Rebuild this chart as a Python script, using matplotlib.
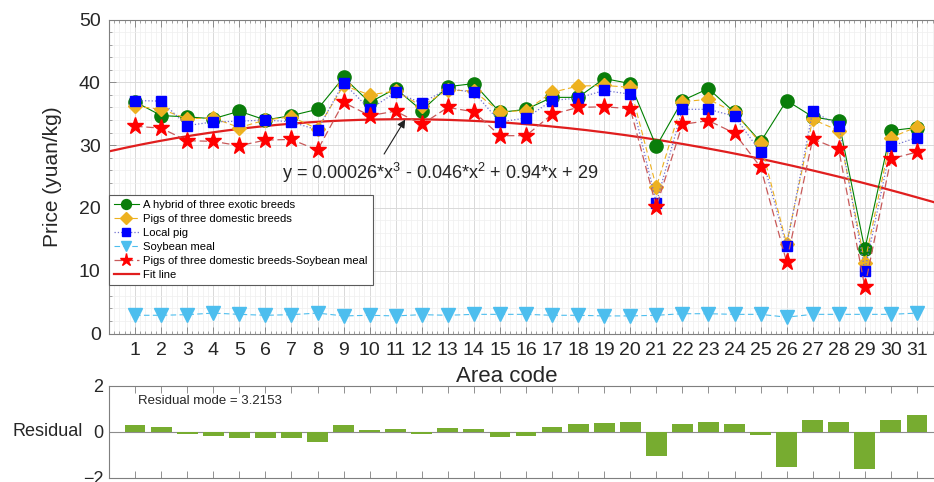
import matplotlib
matplotlib.use("Agg")
import matplotlib.pyplot as plt
import numpy as np
from matplotlib.ticker import MultipleLocator

plt.rcParams['font.family'] = ['Liberation Sans', 'DejaVu Sans']
plt.rcParams['mathtext.fontset'] = 'custom'
plt.rcParams['mathtext.rm'] = 'Liberation Sans'
plt.rcParams['mathtext.it'] = 'Liberation Sans:italic'

# ---------------- data ----------------
area = list(range(1, 32))
hybrid = [36.9, 34.7, 34.5, 34.2, 35.4, 34.0, 34.7, 35.7, 40.8, 36.8,
          39.0, 35.5, 39.3, 39.8, 35.2, 35.7, 37.6, 37.6, 40.6, 39.8,
          29.8, 37.1, 39.0, 35.2, 30.5, 37.1, 34.5, 33.8, 13.4, 32.3, 32.8]
domestic = [36.2, 35.7, 34.2, 34.3, 32.8, 34.0, 34.5, 32.6, 39.5, 38.0,
            38.6, 36.2, 38.8, 38.6, 35.3, 35.5, 38.4, 39.4, 39.5, 39.2,
            23.3, 36.9, 37.3, 35.2, 30.3, 14.3, 34.1, 32.3, 11.3, 31.2, 32.9]
local = [37.1, 37.0, 33.1, 33.7, 33.8, 34.0, 33.7, 32.4, 39.9, 35.7,
         38.4, 36.7, 39.0, 38.4, 33.7, 34.3, 37.1, 37.5, 38.7, 38.1,
         20.8, 35.7, 35.7, 34.6, 28.9, 13.9, 35.4, 33.1, 10.0, 29.8, 31.2]
soybean = [2.9, 2.9, 3.0, 3.25, 3.05, 2.9, 3.0, 3.25, 2.8, 2.9,
           2.8, 3.0, 2.9, 3.05, 3.05, 3.05, 2.9, 2.9, 2.8, 2.8,
           2.9, 3.15, 3.15, 3.05, 3.05, 2.6, 3.05, 3.05, 3.05, 3.05, 3.25]
dom_minus_soy = [33.0, 32.7, 30.7, 30.6, 29.9, 30.8, 30.9, 29.2, 36.8, 34.7,
                 35.4, 33.3, 36.0, 35.3, 31.5, 31.5, 34.9, 36.0, 36.1, 35.8,
                 20.2, 33.3, 33.9, 31.9, 26.5, 11.4, 31.0, 29.3, 7.4, 27.8, 28.9]
fit_coef = [0.00026, -0.046, 0.94, 29]
residual = [0.32, 0.22, -0.09, -0.16, -0.27, -0.24, -0.26, -0.45, 0.29, 0.07,
            0.13, -0.07, 0.19, 0.14, -0.22, -0.17, 0.20, 0.35, 0.41, 0.43,
            -1.04, 0.33, 0.45, 0.33, -0.13, -1.54, 0.51, 0.45, -1.62, 0.51, 0.74]
residual_norm = 3.2153
equation = 'y = 0.00026*x$^3$ - 0.046*x$^2$ + 0.94*x + 29'

# ---------------- layout ----------------
W, H = 934, 482
fig = plt.figure(figsize=(W / 100, H / 100), dpi=100)


def rect(l, t, r, b):
    return [l / W, 1 - b / H, (r - l) / W, (b - t) / H]


ax = fig.add_axes(rect(109, 19.5, 943, 333.5))
axr = fig.add_axes(rect(109, 386, 943, 478))

spine_col = '#7f7f7f'
txt_col = '#262626'

# ---------------- main axes ----------------
x = np.array(area)
ax.plot(x, hybrid, color='#008000', lw=0.8, ls='-', marker='o', ms=9.5,
        mfc='#0a7d0a', mec='#0a7d0a', label='A hybrid of three exotic breeds', zorder=3)
ax.plot(x, domestic, color='#EDB120', lw=0.8, ls=(0, (5, 3)), marker='D', ms=7.5,
        mfc='#EDB120', mec='#EDB120', label='Pigs of three domestic breeds', zorder=3)
ax.plot(x, local, color='#7070d0', lw=0.9, ls=':', marker='s', ms=7.5,
        mfc='#0000FF', mec='#0000FF', label='Local pig', zorder=3)
ax.plot(x, soybean, color='#4DBEEE', lw=0.8, ls=(0, (5, 3)), marker='v', ms=10,
        mfc='#4DBEEE', mec='#4DBEEE', label='Soybean meal', zorder=3)
ax.plot(x, dom_minus_soy, color='#c85a5a', lw=0.9, ls=(0, (6, 3)), marker='*', ms=12.5,
        mfc='#FF0000', mec='#FF0000', label='Pigs of three domestic breeds-Soybean meal', zorder=3)
xf = np.linspace(0, 32, 300)
ax.plot(xf, np.polyval(fit_coef, xf), color='#E01E1E', lw=1.6, label='Fit line', zorder=2.5)

ax.set_xlim(0, 32)
ax.set_ylim(0, 50)
ax.set_xticks(area)
ax.set_xticklabels([str(a) for a in area])
ax.set_yticks(range(0, 51, 10))
ax.xaxis.set_minor_locator(MultipleLocator(0.2))
ax.yaxis.set_minor_locator(MultipleLocator(2))
ax.grid(True, which='major', color='#d9d9d9', lw=0.7)
ax.grid(True, which='minor', color='#efefef', lw=0.5)
ax.set_axisbelow(True)
ax.tick_params(which='both', direction='in', top=True, right=True, colors=spine_col,
               labelcolor=txt_col)
ax.tick_params(which='major', length=5, width=0.6)
ax.tick_params(which='minor', length=2.5, width=0.5)
ax.tick_params(axis='x', labelsize=14, pad=6)
ax.tick_params(axis='y', labelsize=14, pad=6)
for s in ax.spines.values():
    s.set_color(spine_col)
    s.set_linewidth(0.8)
ax.set_ylabel('Price (yuan/kg)', fontsize=15, color=txt_col)
ax.yaxis.set_label_coords(-0.056, 0.5)

ax.annotate('', xy=(11.42, 34.45), xytext=(10.5, 28.2),
            arrowprops=dict(arrowstyle='-|>', color='#202020', lw=0.8, mutation_scale=12))
ax.text(6.64, 25.6, equation, fontsize=13, color=txt_col, ha='left', va='center')

leg = ax.legend(loc='upper left', bbox_to_anchor=(0, 0.441), borderaxespad=0,
                fontsize=8.1, frameon=True, fancybox=False, framealpha=1,
                edgecolor='#5a5a5a', labelspacing=0.36, handlelength=2.2,
                handletextpad=0.4, borderpad=0.45, markerscale=0.75)
leg.get_frame().set_linewidth(0.8)

fig.text(507 / W, 1 - 377 / H, 'Area code', fontsize=16, ha='center', va='center', color=txt_col)

# ---------------- residual axes ----------------
axr.bar(x, residual, width=0.8, color='#77AC30', zorder=3)
axr.axhline(0, color='#8c8c8c', lw=0.8, zorder=2)
axr.set_xlim(0, 32)
axr.set_ylim(-2, 2)
axr.set_yticks([-2, 0, 2])
axr.set_xticks(area)
axr.set_xticklabels([])
axr.tick_params(axis='x', direction='in', top=True, bottom=True, length=5, width=0.6,
                colors=spine_col)
axr.tick_params(axis='y', direction='in', length=0, labelsize=13, pad=4, labelcolor=txt_col)
for s in axr.spines.values():
    s.set_color(spine_col)
    s.set_linewidth(0.8)
axr.text(1.1, 1.35, f'Residual mode = {residual_norm}', fontsize=9.5, color=txt_col,
         ha='left', va='center')
fig.text(13 / W, 1 - 432 / H, 'Residual', fontsize=13, ha='left', va='center', color=txt_col)

fig.savefig('out.png', dpi=100)
